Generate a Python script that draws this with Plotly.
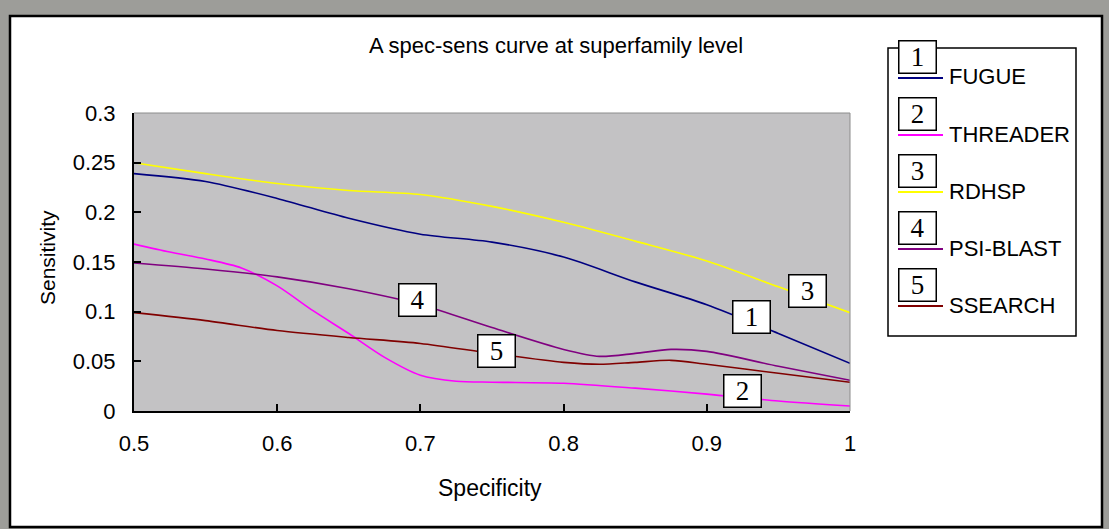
import plotly.graph_objects as go

# ---------------- data ----------------
x_fugue = [0.5, 0.55, 0.6, 0.65, 0.7, 0.75, 0.8, 0.85, 0.9, 0.95, 1.0]
y_fugue = [0.239, 0.231, 0.214, 0.194, 0.178, 0.170, 0.155, 0.130, 0.107, 0.078, 0.048]

x_threader = [0.5, 0.525, 0.55, 0.575, 0.6, 0.625, 0.65, 0.675, 0.7, 0.725, 0.75, 0.8, 0.85, 0.9, 0.95, 1.0]
y_threader = [0.168, 0.160, 0.153, 0.144, 0.126, 0.101, 0.078, 0.054, 0.036, 0.030, 0.029, 0.028, 0.023, 0.017, 0.010, 0.005]

x_rdhsp = [0.5, 0.55, 0.6, 0.65, 0.7, 0.75, 0.8, 0.85, 0.9, 0.95, 1.0]
y_rdhsp = [0.250, 0.239, 0.229, 0.222, 0.218, 0.206, 0.190, 0.171, 0.151, 0.125, 0.099]

x_psiblast = [0.5, 0.55, 0.6, 0.65, 0.7, 0.75, 0.8, 0.825, 0.85, 0.875, 0.9, 0.95, 1.0]
y_psiblast = [0.149, 0.143, 0.135, 0.123, 0.107, 0.084, 0.062, 0.055, 0.058, 0.062, 0.060, 0.045, 0.031]

x_ssearch = [0.5, 0.55, 0.6, 0.65, 0.7, 0.75, 0.8, 0.825, 0.85, 0.875, 0.9, 0.95, 1.0]
y_ssearch = [0.099, 0.091, 0.081, 0.074, 0.068, 0.058, 0.049, 0.047, 0.049, 0.051, 0.047, 0.038, 0.029]

series_names = ["FUGUE", "THREADER", "RDHSP", "PSI-BLAST", "SSEARCH"]
series_numbers = ["1", "2", "3", "4", "5"]

x_tickvals = [0.5, 0.6, 0.7, 0.8, 0.9, 1.0]
x_ticktext = ["0.5", "0.6", "0.7", "0.8", "0.9", "1"]
y_tickvals = [0, 0.05, 0.1, 0.15, 0.2, 0.25, 0.3]
y_ticktext = ["0", "0.05", "0.1", "0.15", "0.2", "0.25", "0.3"]

title_text = "A spec-sens curve at superfamily level"
x_title = "Specificity"
y_title = "Sensitivity"

# ---------------- layout helpers ----------------
W, H = 1109, 529
L, R, T, B = 134, 850, 113, 411  # plot area in pixels


def px2x(px):
    return (px - L) / (R - L)


def px2y(py):
    return (B - py) / (B - T)


colors = ["#000080", "#FF00FF", "#FFFF00", "#800080", "#800000"]
xs = [x_fugue, x_threader, x_rdhsp, x_psiblast, x_ssearch]
ys = [y_fugue, y_threader, y_rdhsp, y_psiblast, y_ssearch]

TXT = "Liberation Sans, Arial, sans-serif"
SERIF = "Liberation Serif, Times New Roman, serif"
PLOT_BG = "#c3c2c4"

fig = go.Figure()
for name, xv, yv, c in zip(series_names, xs, ys, colors):
    fig.add_trace(go.Scatter(x=xv, y=yv, mode="lines", name=name,
                             line=dict(color=c, width=1.6, shape="spline", smoothing=0.8),
                             showlegend=False, hoverinfo="x+y+name"))

shapes = []
annotations = []

# outer white panel with black frame (behind plot)
shapes.append(dict(type="rect", xref="paper", yref="paper",
                   x0=px2x(10), x1=px2x(1102), y0=px2y(527), y1=px2y(16),
                   fillcolor="white", line=dict(color="black", width=2.5), layer="below"))
# grey plot area background
shapes.append(dict(type="rect", xref="paper", yref="paper", x0=0, x1=1, y0=0, y1=1,
                   fillcolor=PLOT_BG, line=dict(width=0), layer="below"))

# plot area top/right grey border
shapes.append(dict(type="line", xref="paper", yref="paper", x0=0, x1=1, y0=1, y1=1,
                   line=dict(color="#8c8c8c", width=1), layer="above"))
shapes.append(dict(type="line", xref="paper", yref="paper", x0=1, x1=1, y0=0, y1=1,
                   line=dict(color="#8c8c8c", width=1), layer="above"))

# legend frame
shapes.append(dict(type="rect", xref="paper", yref="paper",
                   x0=px2x(888), x1=px2x(1076), y0=px2y(336), y1=px2y(48),
                   line=dict(color="black", width=1.5), fillcolor="rgba(0,0,0,0)", layer="above"))

box_style = dict(showarrow=False, bordercolor="black", borderwidth=1.5, borderpad=1,
                 bgcolor="white", width=34, height=29,
                 font=dict(family=SERIF, size=27, color="black"))

for i, (name, num, c) in enumerate(zip(series_names, series_numbers, colors)):
    ly = 78 + i * 57
    shapes.append(dict(type="line", xref="paper", yref="paper",
                       x0=px2x(898), x1=px2x(943), y0=px2y(ly), y1=px2y(ly),
                       line=dict(color=c, width=2), layer="above"))
    annotations.append(dict(xref="paper", yref="paper", x=px2x(947), y=px2y(ly - 1),
                            xanchor="left", yanchor="middle", text=name, showarrow=False,
                            font=dict(family=TXT, size=22, color="black")))
    annotations.append(dict(xref="paper", yref="paper", x=px2x(917), y=px2y(ly - 21),
                            xanchor="center", yanchor="middle", text=num, **box_style))

# in-plot number labels
label_pos = {"4": (0.698, 0.112), "5": (0.753, 0.060), "3": (0.970, 0.121),
             "1": (0.931, 0.0945), "2": (0.9246, 0.020)}
for num, (lx, lyv) in label_pos.items():
    annotations.append(dict(xref="x", yref="y", x=lx, y=lyv, xanchor="center",
                            yanchor="middle", text=num, **box_style))

# title and axis titles
annotations.append(dict(xref="paper", yref="paper", x=px2x(556), y=px2y(45), text=title_text,
                        showarrow=False, xanchor="center", yanchor="middle",
                        font=dict(family=TXT, size=22, color="black")))
annotations.append(dict(xref="paper", yref="paper", x=px2x(490), y=px2y(488), text=x_title,
                        showarrow=False, xanchor="center", yanchor="middle",
                        font=dict(family=TXT, size=23, color="black")))
annotations.append(dict(xref="paper", yref="paper", x=px2x(47), y=px2y(258), text=y_title,
                        showarrow=False, xanchor="center", yanchor="middle", textangle=-90,
                        font=dict(family=TXT, size=21, color="black")))

fig.update_layout(
    width=W, height=H,
    margin=dict(l=L, r=W - R, t=T, b=H - B, pad=0),
    paper_bgcolor="#9d9d99",
    plot_bgcolor=PLOT_BG,
    shapes=shapes,
    annotations=annotations,
    xaxis=dict(range=[0.5, 1.0], tickvals=x_tickvals, ticktext=x_ticktext,
               showgrid=False, zeroline=False, showline=True, linecolor="black", linewidth=2,
               ticks="inside", ticklen=7, tickwidth=1.5, tickcolor="black",
               ticklabelstandoff=12,
               tickfont=dict(family=TXT, size=22, color="black")),
    yaxis=dict(range=[0, 0.3], tickvals=y_tickvals, ticktext=y_ticktext,
               showgrid=False, zeroline=False, showline=True, linecolor="black", linewidth=2,
               ticks="inside", ticklen=7, tickwidth=1.5, tickcolor="black",
               ticklabelstandoff=12,
               tickfont=dict(family=TXT, size=22, color="black")),
    showlegend=False,
)

fig.write_html("out.html")
